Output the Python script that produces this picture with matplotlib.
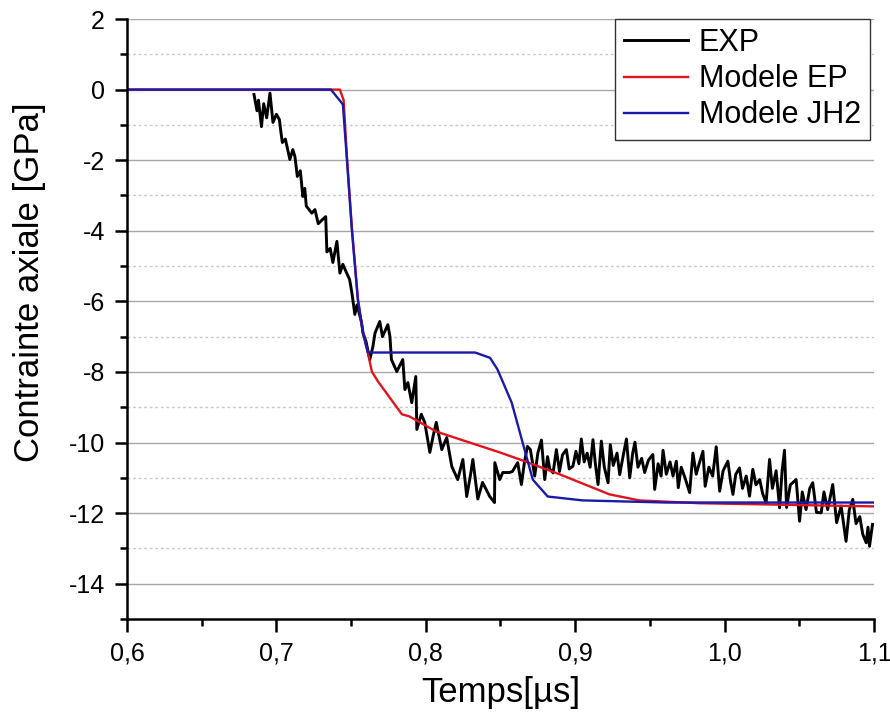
import matplotlib.pyplot as plt
from matplotlib.ticker import MultipleLocator, FuncFormatter

plt.rcParams['font.family'] = ['Liberation Sans', 'DejaVu Sans']
plt.rcParams['axes.unicode_minus'] = False

# --- Data ---
exp_t = [0.6850, 0.6870, 0.6880, 0.6900, 0.6915, 0.6935, 0.6957, 0.6977, 0.7000, 0.7020,
         0.7030, 0.7040, 0.7060, 0.7090, 0.7110, 0.7124, 0.7140, 0.7160, 0.7177, 0.7190,
         0.7200, 0.7237, 0.7258, 0.7280, 0.7304, 0.7330, 0.7338, 0.7360, 0.7378, 0.7405,
         0.7425, 0.7445, 0.7460, 0.7490, 0.7505, 0.7525, 0.7540, 0.7570, 0.7580, 0.7600,
         0.7625, 0.7646, 0.7660, 0.7692, 0.7710, 0.7746, 0.7760, 0.7770, 0.7806, 0.7846,
         0.7860, 0.7880, 0.7906, 0.7933, 0.7940, 0.7970, 0.7993, 0.8027, 0.8050, 0.8070,
         0.8107, 0.8140, 0.8174, 0.8214, 0.8248, 0.8274, 0.8300, 0.8315, 0.8348, 0.8380,
         0.8428, 0.8460, 0.8462, 0.8495, 0.8515, 0.8560, 0.8580, 0.8615, 0.8640, 0.8660,
         0.8680,
         0.8700, 0.8729, 0.8750, 0.8774, 0.8796, 0.8815, 0.8830, 0.8852, 0.8874, 0.8895,
         0.8915, 0.8941, 0.8960, 0.8985, 0.9005, 0.9025, 0.9041, 0.9060, 0.9080, 0.9100,
         0.9119, 0.9135, 0.9153, 0.9175, 0.9195, 0.9220, 0.9235, 0.9255, 0.9280, 0.9298,
         0.9320, 0.9343, 0.9365, 0.9385, 0.9400, 0.9420, 0.9445, 0.9465, 0.9490, 0.9520,
         0.9532, 0.9555, 0.9575, 0.9588, 0.9610, 0.9635, 0.9655, 0.9677, 0.9690, 0.9710,
         0.9735, 0.9766, 0.9788, 0.9810, 0.9830, 0.9855, 0.9870, 0.9895, 0.9920, 0.9944,
         0.9967, 0.9990, 1.0022, 1.0040, 1.0056, 1.0075, 1.0100, 1.0120, 1.0145, 1.0167,
         1.0189, 1.0210, 1.0235, 1.0255, 1.0278, 1.0301, 1.0320, 1.0345, 1.0368, 1.0385,
         1.0401, 1.0415, 1.0440, 1.0479, 1.0502, 1.0520, 1.0545, 1.0570, 1.0590, 1.0615,
         1.0647, 1.0665, 1.0690, 1.0724, 1.0750, 1.0780, 1.0813, 1.0835, 1.0858, 1.0880,
         1.0905, 1.0925, 1.0948, 1.0960, 1.0970, 1.0990]
exp_s = [-0.14, -0.60, -0.30, -1.05, -0.40, -0.80, -0.10, -0.93, -0.70, -0.85,
         -1.20, -1.50, -1.40, -1.98, -1.70, -1.90, -2.46, -2.30, -3.03, -2.80,
         -3.30, -3.50, -3.40, -3.80, -3.70, -3.60, -4.60, -4.50, -4.90, -4.30,
         -5.20, -4.95, -5.10, -5.38, -5.75, -6.37, -6.10, -6.60, -6.90, -7.14,
         -7.65, -7.28, -6.90, -6.57, -7.00, -6.66, -7.00, -7.65, -7.99, -7.65,
         -8.50, -8.30, -8.87, -8.13, -9.63, -9.20, -9.43, -10.28, -9.80, -9.43,
         -10.20, -9.86, -10.68, -11.05, -10.48, -11.53, -10.90, -10.48, -11.60, -11.13,
         -11.53, -11.70, -10.57, -11.05, -10.85, -10.85, -10.82, -10.57, -11.19, -10.57,
         -10.11,
         -10.20, -10.95, -10.30, -9.93, -11.05, -10.40, -10.75, -10.86, -10.20, -10.82,
         -10.35, -10.20, -10.75, -10.67, -10.25, -10.60, -9.90, -10.55, -10.30, -10.70,
         -9.92, -10.60, -11.19, -9.96, -10.70, -11.14, -10.06, -10.65, -10.30, -10.91,
         -10.40, -9.90, -11.00, -10.30, -9.99, -10.70, -10.45, -10.85, -10.50, -10.34,
         -11.33, -10.60, -10.95, -10.22, -10.90, -10.55, -10.95, -10.53, -11.28, -10.70,
         -11.00, -11.42, -10.30, -10.90, -10.60, -10.25, -11.24, -10.70, -10.95, -10.12,
         -11.38, -10.80, -10.53, -11.10, -11.47, -10.90, -10.72, -11.30, -10.95, -11.52,
         -10.76, -11.20, -11.05, -11.45, -11.71, -10.48, -11.30, -10.80, -11.85, -10.80,
         -10.22, -11.84, -11.20, -11.05, -12.23, -11.40, -11.90, -11.30, -11.14, -11.98,
         -11.99, -11.40, -11.90, -11.19, -12.27, -11.80, -12.80, -11.90, -11.61, -12.30,
         -12.10, -12.60, -12.84, -12.40, -12.94, -12.32]

ep_t = [0.60, 0.7425, 0.7450, 0.7472, 0.7505, 0.7545, 0.7580, 0.7612, 0.7639, 0.7680,
        0.7840, 0.7890, 0.8070, 0.8495, 0.8629, 0.8896, 0.9230, 0.9430, 0.9830, 1.1000]
ep_s = [0.0, 0.0, -0.30, -1.90, -3.90, -5.90, -6.90, -7.45, -7.99, -8.27,
        -9.20, -9.26, -9.69, -10.28, -10.48, -10.90, -11.47, -11.64, -11.72, -11.81]

jh2_t = [0.60, 0.7365, 0.7445, 0.7472, 0.7505, 0.7545, 0.7580, 0.7612, 0.8330, 0.8430,
         0.8480, 0.8575, 0.8716, 0.8816, 0.9050, 0.9610, 1.1000]
jh2_s = [0.0, 0.0, -0.42, -1.98, -3.97, -5.95, -6.90, -7.45, -7.45, -7.60,
         -7.93, -8.87, -11.05, -11.53, -11.64, -11.70, -11.70]

fig = plt.figure(figsize=(8.9, 7.17), dpi=100)
ax = fig.add_axes([0.1427, 0.1367, 0.8393, 0.8368])

ax.plot(exp_t, exp_s, color='black', lw=2.1, label='EXP')
ax.plot(ep_t, ep_s, color='#e0141c', lw=1.7, label='Modele EP')
ax.plot(jh2_t, jh2_s, color='#1a1aaa', lw=1.7, label='Modele JH2')

ax.set_xlim(0.6, 1.1)
ax.set_ylim(-15, 2)
ax.xaxis.set_major_locator(MultipleLocator(0.1))
ax.xaxis.set_minor_locator(MultipleLocator(0.05))
ax.yaxis.set_major_locator(MultipleLocator(2))
ax.yaxis.set_minor_locator(MultipleLocator(1))
ax.xaxis.set_major_formatter(FuncFormatter(lambda v, p: f'{v:.1f}'.replace('.', ',')))
ax.yaxis.set_major_formatter(FuncFormatter(lambda v, p: f'{v:.0f}'))

ax.grid(axis='y', which='major', color='#a8a8a8', lw=1.0, ls='-')
ax.grid(axis='y', which='minor', color='#c8c8c8', lw=1.0, ls=(0, (2, 2)))
ax.set_axisbelow(True)

for side in ['top', 'right']:
    ax.spines[side].set_visible(False)
for side in ['left', 'bottom']:
    ax.spines[side].set_linewidth(1.8)

ax.tick_params(which='major', direction='out', length=9, width=1.8, labelsize=18, pad=7)
ax.tick_params(which='minor', direction='out', length=5, width=1.8)

ax.set_xlabel('Temps[µs]', fontsize=25, labelpad=8)
ax.set_ylabel('Contrainte axiale [GPa]', fontsize=25)
ax.yaxis.set_label_coords(-0.108, 0.562)

leg = ax.legend(loc='upper right', bbox_to_anchor=(0.995, 1.0), fontsize=22,
                frameon=True, fancybox=False, shadow=False, framealpha=1,
                borderpad=0.3, labelspacing=0.2, handlelength=2.1, handletextpad=0.35,
                borderaxespad=0.0)
leg.get_frame().set_edgecolor('#333333')
leg.get_frame().set_linewidth(1.0)

fig.savefig('out.png', dpi=100)
